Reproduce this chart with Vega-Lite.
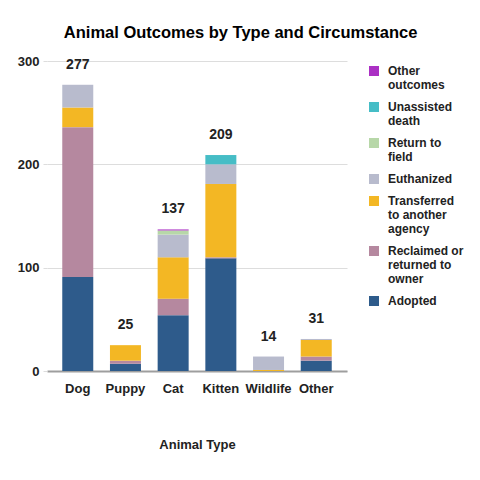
{
  "$schema": "https://vega.github.io/schema/vega-lite/v6.json",
  "width": 300,
  "height": 310,
  "padding": {"left": 17, "top": 24, "right": 5, "bottom": 5},
  "background": "white",
  "title": {
    "text": "Animal Outcomes by Type and Circumstance",
    "font": "Liberation Sans",
    "fontSize": 16.5,
    "fontWeight": "bold",
    "color": "#000000",
    "anchor": "middle",
    "frame": "bounds",
    "offset": 14
  },
  "config": {
    "view": {"stroke": null},
    "font": "Liberation Sans"
  },
  "data": {
    "values": [
      {"type": "Dog", "outcome": "Adopted", "count": 91},
      {"type": "Dog", "outcome": "Reclaimed or returned to owner", "count": 145},
      {"type": "Dog", "outcome": "Transferred to another agency", "count": 19},
      {"type": "Dog", "outcome": "Euthanized", "count": 22},
      {"type": "Puppy", "outcome": "Adopted", "count": 7},
      {"type": "Puppy", "outcome": "Reclaimed or returned to owner", "count": 3},
      {"type": "Puppy", "outcome": "Transferred to another agency", "count": 15},
      {"type": "Cat", "outcome": "Adopted", "count": 54},
      {"type": "Cat", "outcome": "Reclaimed or returned to owner", "count": 16},
      {"type": "Cat", "outcome": "Transferred to another agency", "count": 40},
      {"type": "Cat", "outcome": "Euthanized", "count": 22},
      {"type": "Cat", "outcome": "Return to field", "count": 4},
      {"type": "Cat", "outcome": "Other outcomes", "count": 1},
      {"type": "Kitten", "outcome": "Adopted", "count": 109},
      {"type": "Kitten", "outcome": "Reclaimed or returned to owner", "count": 1},
      {"type": "Kitten", "outcome": "Transferred to another agency", "count": 71},
      {"type": "Kitten", "outcome": "Euthanized", "count": 19},
      {"type": "Kitten", "outcome": "Unassisted death", "count": 9},
      {"type": "Wildlife", "outcome": "Transferred to another agency", "count": 1},
      {"type": "Wildlife", "outcome": "Euthanized", "count": 13},
      {"type": "Other", "outcome": "Adopted", "count": 10},
      {"type": "Other", "outcome": "Reclaimed or returned to owner", "count": 4},
      {"type": "Other", "outcome": "Transferred to another agency", "count": 16},
      {"type": "Other", "outcome": "Euthanized", "count": 1}
    ]
  },
  "encoding": {
    "x": {
      "field": "type",
      "type": "nominal",
      "sort": ["Dog", "Puppy", "Cat", "Kitten", "Wildlife", "Other"],
      "scale": {"paddingInner": 0.35, "paddingOuter": 0.32},
      "axis": {
        "title": "Animal Type",
        "titleFont": "Liberation Sans",
        "titleFontSize": 13,
        "titleFontWeight": "bold",
        "titleColor": "#222222",
        "titlePadding": 43,
        "labelAngle": 0,
        "labelFont": "Liberation Sans",
        "labelFontSize": 13,
        "labelFontWeight": "bold",
        "labelColor": "#222222",
        "labelPadding": 11,
        "ticks": false,
        "domainColor": "#9e9e9e",
        "domainWidth": 2
      }
    }
  },
  "layer": [
    {
      "transform": [
        {"calculate": "indexof(['Adopted', 'Reclaimed or returned to owner', 'Transferred to another agency', 'Euthanized', 'Return to field', 'Unassisted death', 'Other outcomes'], datum.outcome)", "as": "stackRank"}
      ],
      "mark": {"type": "bar"},
      "encoding": {
        "y": {
          "field": "count",
          "type": "quantitative",
          "stack": "zero",
          "scale": {"domain": [0, 300], "nice": false},
          "axis": {
            "title": null,
            "values": [0, 100, 200, 300],
            "labelFont": "Liberation Sans",
            "labelFontSize": 13,
            "labelFontWeight": "bold",
            "labelColor": "#222222",
            "labelPadding": 4,
            "domain": false,
            "tickSize": 4,
            "tickColor": "#dddddd",
            "gridColor": "#dddddd"
          }
        },
        "order": {"field": "stackRank", "type": "quantitative", "sort": "ascending"},
        "color": {
          "field": "outcome",
          "type": "nominal",
          "scale": {
            "domain": ["Other outcomes", "Unassisted death", "Return to field", "Euthanized", "Transferred to another agency", "Reclaimed or returned to owner", "Adopted"],
            "range": ["#ab30c4", "#46bdc6", "#b7d7a8", "#b8bbcd", "#f3b724", "#b5889f", "#2e5b8b"]
          },
          "legend": {
            "title": null,
            "orient": "none",
            "legendX": 321,
            "legendY": 4,
            "padding": 0,
            "symbolType": "square",
            "symbolSize": 100,
            "symbolStrokeWidth": 0,
            "labelFont": "Liberation Sans",
            "labelFontSize": 12,
            "labelFontWeight": "bold",
            "labelColor": "#222222",
            "labelOffset": 8,
            "labelLimit": 200,
            "rowPadding": 10,
            "labelExpr": "datum.label == 'Other outcomes' ? ['Other', 'outcomes'] : datum.label == 'Unassisted death' ? ['Unassisted', 'death'] : datum.label == 'Return to field' ? ['Return to', 'field'] : datum.label == 'Transferred to another agency' ? ['Transferred', 'to another', 'agency'] : datum.label == 'Reclaimed or returned to owner' ? ['Reclaimed or', 'returned to', 'owner'] : datum.label",
            "encode": {
              "labels": {"update": {"lineHeight": {"value": 14}}}
            }
          }
        }
      }
    },
    {
      "transform": [
        {"aggregate": [{"op": "sum", "field": "count", "as": "total"}], "groupby": ["type"]}
      ],
      "mark": {
        "type": "text",
        "font": "Liberation Sans",
        "fontSize": 14,
        "fontWeight": "bold",
        "color": "#222222",
        "baseline": "middle",
        "dy": -20
      },
      "encoding": {
        "y": {"field": "total", "type": "quantitative"},
        "text": {"field": "total", "type": "quantitative"}
      }
    }
  ]
}
